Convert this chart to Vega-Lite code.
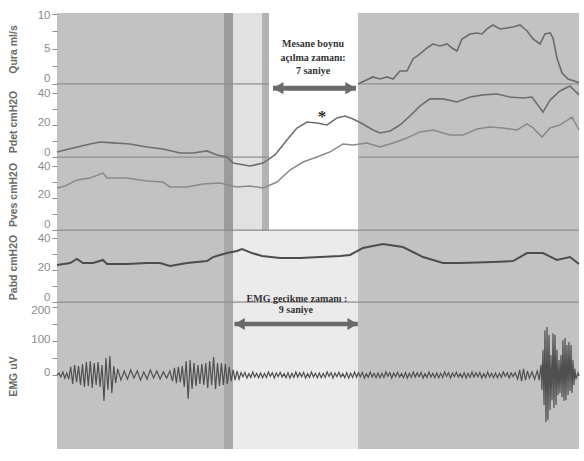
{
  "$schema": "https://vega.github.io/schema/vega-lite/v6.json",
  "padding": {"left": 8, "top": 9, "right": 0, "bottom": 0},
  "spacing": 0,
  "bounds": "flush",
  "background": "#ffffff",
  "config": {
    "view": {"fill": "#c2c2c2", "stroke": null},
    "font": "Liberation Sans",
    "axis": {
      "domain": false, "grid": false, "ticks": true, "tickColor": "#8f8f8f", "tickSize": 5, "tickWidth": 1,
      "labelColor": "#8c8c8c", "labelFont": "Liberation Sans", "labelFontSize": 11.5, "labelPadding": 2, "labelOverlap": false,
      "titleColor": "#6a6a6a", "titleFont": "Liberation Sans", "titleFontSize": 10.5, "titleFontWeight": "bold", "titlePadding": 9,
      "minExtent": 30, "maxExtent": 30
    }
  },
  "datasets": {
    "bands": [
      {"zone": "upper", "kind": "shadow-u", "t0": 12.8, "t1": 13.49},
      {"zone": "upper", "kind": "light-u", "t0": 13.49, "t1": 15.71},
      {"zone": "upper", "kind": "edge-u", "t0": 15.71, "t1": 16.25},
      {"zone": "upper", "kind": "box", "t0": 16.25, "t1": 23.07},
      {"zone": "lower", "kind": "shadow-l", "t0": 12.8, "t1": 13.49},
      {"zone": "lower", "kind": "light-l", "t0": 13.49, "t1": 23.07}
    ],
    "rules": [
      {"panel": "Qura", "t0": 0, "t1": 16.25},
      {"panel": "Qura", "t0": 23.07, "t1": 40},
      {"panel": "Pdet", "t0": 0, "t1": 16.25},
      {"panel": "Pdet", "t0": 23.07, "t1": 40},
      {"panel": "Pves", "t0": 0, "t1": 40},
      {"panel": "Pabd", "t0": 0, "t1": 40}
    ],
    "notes": [
      {"panel": "Qura", "t": 19.62, "v": 5.71, "text": "Mesane boynu"},
      {"panel": "Qura", "t": 19.62, "v": 3.71, "text": "açılma zamanı:"},
      {"panel": "Qura", "t": 19.62, "v": 1.86, "text": "7 saniye"},
      {"panel": "Pdet", "t": 20.31, "v": 27, "text": "*"},
      {"panel": "EMG", "t": 18.39, "v": 223, "text": "EMG gecikme zamanı :"},
      {"panel": "EMG", "t": 18.3, "v": 191, "text": "9 saniye"}
    ],
    "arrows": [
      {"panel": "Pdet", "t0": 16.55, "t1": 22.91, "v": 43},
      {"panel": "EMG", "t0": 13.6, "t1": 23.05, "v": 150}
    ],
    "heads": [
      {"panel": "Pdet", "t": 16.95, "v": 43, "dir": "left"},
      {"panel": "Pdet", "t": 22.5, "v": 43, "dir": "right"},
      {"panel": "EMG", "t": 14.0, "v": 150, "dir": "left"},
      {"panel": "EMG", "t": 22.65, "v": 150, "dir": "right"}
    ],
    "qura": [
      {"t": 23.07, "v": 0}, {"t": 23.22, "v": 0.14}, {"t": 24.21, "v": 1.0}, {"t": 24.75, "v": 0.71}, {"t": 25.29, "v": 1.0},
      {"t": 25.75, "v": 0.71}, {"t": 26.28, "v": 1.86}, {"t": 26.82, "v": 1.86}, {"t": 27.28, "v": 3.57}, {"t": 27.82, "v": 4.29},
      {"t": 28.35, "v": 5.14}, {"t": 28.81, "v": 5.71}, {"t": 29.35, "v": 5.43}, {"t": 29.89, "v": 5.71}, {"t": 30.27, "v": 5.14},
      {"t": 30.65, "v": 4.71}, {"t": 31.03, "v": 6.43}, {"t": 31.65, "v": 7.14}, {"t": 32.18, "v": 7.29}, {"t": 32.57, "v": 7.14},
      {"t": 32.95, "v": 7.86}, {"t": 33.41, "v": 8.43}, {"t": 33.95, "v": 7.86}, {"t": 34.48, "v": 8.0}, {"t": 34.94, "v": 8.14},
      {"t": 35.48, "v": 8.43}, {"t": 36.02, "v": 7.57}, {"t": 36.48, "v": 6.43}, {"t": 37.01, "v": 5.71}, {"t": 37.39, "v": 7.14},
      {"t": 37.78, "v": 7.29}, {"t": 38.01, "v": 6.57}, {"t": 38.31, "v": 3.71}, {"t": 38.7, "v": 1.57}, {"t": 39.16, "v": 0.71},
      {"t": 39.85, "v": 0.29}, {"t": 40, "v": 0.2}
    ],
    "pdet": [
      {"t": 0, "v": 3.1}, {"t": 1.23, "v": 5.6}, {"t": 2.53, "v": 8.1}, {"t": 3.3, "v": 9.4}, {"t": 4.29, "v": 8.8},
      {"t": 5.59, "v": 8.1}, {"t": 6.9, "v": 6.3}, {"t": 8.12, "v": 5.0}, {"t": 9.43, "v": 2.5}, {"t": 10.42, "v": 2.5},
      {"t": 11.49, "v": 3.8}, {"t": 12.26, "v": 1.3}, {"t": 13.03, "v": 0}, {"t": 13.49, "v": -3.8}, {"t": 14.79, "v": -5.6},
      {"t": 15.79, "v": -3.8}, {"t": 16.7, "v": 1.3}, {"t": 17.62, "v": 10.6}, {"t": 18.39, "v": 18.1}, {"t": 19.16, "v": 21.9},
      {"t": 19.92, "v": 21.3}, {"t": 20.69, "v": 20.0}, {"t": 21.46, "v": 24.4}, {"t": 22.07, "v": 25.6}, {"t": 22.68, "v": 23.8},
      {"t": 23.45, "v": 20.6}, {"t": 24.21, "v": 16.9}, {"t": 24.75, "v": 15.0}, {"t": 25.52, "v": 16.3}, {"t": 26.28, "v": 20.0},
      {"t": 27.05, "v": 25.6}, {"t": 27.82, "v": 31.9}, {"t": 28.58, "v": 36.3}, {"t": 29.58, "v": 36.3}, {"t": 30.65, "v": 34.4},
      {"t": 31.65, "v": 37.5}, {"t": 32.64, "v": 38.8}, {"t": 33.72, "v": 39.4}, {"t": 34.71, "v": 37.5}, {"t": 35.71, "v": 36.9},
      {"t": 36.4, "v": 37.5}, {"t": 37.24, "v": 28.1}, {"t": 37.78, "v": 35.6}, {"t": 38.54, "v": 41.3}, {"t": 39.31, "v": 44.4},
      {"t": 40, "v": 38.8}
    ],
    "pves": [
      {"t": 0, "v": 26.3}, {"t": 0.61, "v": 27.5}, {"t": 1.53, "v": 31.3}, {"t": 2.53, "v": 32.5}, {"t": 3.52, "v": 35.6},
      {"t": 3.83, "v": 32.5}, {"t": 5.36, "v": 32.5}, {"t": 6.9, "v": 30.6}, {"t": 8.12, "v": 30.0}, {"t": 8.66, "v": 26.9},
      {"t": 9.96, "v": 26.9}, {"t": 11.19, "v": 28.8}, {"t": 12.49, "v": 29.4}, {"t": 13.79, "v": 26.9}, {"t": 14.79, "v": 27.5},
      {"t": 15.79, "v": 26.3}, {"t": 16.86, "v": 30.0}, {"t": 17.85, "v": 37.5}, {"t": 18.85, "v": 42.5}, {"t": 19.92, "v": 45.6},
      {"t": 20.92, "v": 48.8}, {"t": 21.92, "v": 53.8}, {"t": 22.68, "v": 53.1}, {"t": 23.75, "v": 54.4}, {"t": 24.75, "v": 51.9},
      {"t": 25.75, "v": 54.4}, {"t": 26.82, "v": 57.5}, {"t": 27.82, "v": 61.3}, {"t": 28.81, "v": 62.5}, {"t": 30.11, "v": 59.4},
      {"t": 31.11, "v": 59.4}, {"t": 32.18, "v": 63.1}, {"t": 33.18, "v": 64.4}, {"t": 34.18, "v": 63.8}, {"t": 35.25, "v": 62.5},
      {"t": 36.02, "v": 66.3}, {"t": 36.48, "v": 63.8}, {"t": 37.16, "v": 58.1}, {"t": 37.78, "v": 63.8}, {"t": 38.54, "v": 65.6},
      {"t": 39.46, "v": 70.6}, {"t": 40, "v": 62.5}
    ],
    "pabd": [
      {"t": 0, "v": 23.1}, {"t": 1.0, "v": 24.4}, {"t": 1.53, "v": 26.9}, {"t": 1.99, "v": 24.4}, {"t": 2.76, "v": 24.4},
      {"t": 3.52, "v": 26.3}, {"t": 3.83, "v": 23.8}, {"t": 5.36, "v": 23.8}, {"t": 6.9, "v": 24.4}, {"t": 7.89, "v": 24.4},
      {"t": 8.66, "v": 22.5}, {"t": 9.96, "v": 24.4}, {"t": 11.49, "v": 25.6}, {"t": 11.95, "v": 28.1}, {"t": 13.03, "v": 30.6},
      {"t": 13.79, "v": 31.9}, {"t": 14.18, "v": 33.1}, {"t": 14.94, "v": 30.6}, {"t": 15.71, "v": 28.8}, {"t": 17.09, "v": 27.5},
      {"t": 18.62, "v": 27.5}, {"t": 20.15, "v": 28.1}, {"t": 21.69, "v": 28.8}, {"t": 22.45, "v": 29.4}, {"t": 23.45, "v": 33.8},
      {"t": 24.98, "v": 36.3}, {"t": 26.51, "v": 34.4}, {"t": 28.05, "v": 28.1}, {"t": 29.58, "v": 24.4}, {"t": 30.88, "v": 24.4},
      {"t": 33.41, "v": 25.0}, {"t": 34.94, "v": 25.6}, {"t": 36.02, "v": 30.6}, {"t": 37.24, "v": 30.6}, {"t": 38.31, "v": 26.3},
      {"t": 39.31, "v": 28.1}, {"t": 40, "v": 23.8}
    ],
    "emg": [
      {"t": 0, "v": 0}, {"t": 0.15, "v": 6}, {"t": 0.3, "v": -6}, {"t": 0.45, "v": 9}, {"t": 0.6, "v": -9}, {"t": 0.75, "v": 6},
      {"t": 0.9, "v": -12}, {"t": 1.05, "v": 24}, {"t": 1.2, "v": -26}, {"t": 1.35, "v": 29}, {"t": 1.5, "v": -21}, {"t": 1.65, "v": 26},
      {"t": 1.8, "v": -29}, {"t": 1.95, "v": 32}, {"t": 2.1, "v": -35}, {"t": 2.25, "v": 38}, {"t": 2.4, "v": -32}, {"t": 2.55, "v": 41},
      {"t": 2.7, "v": -38}, {"t": 2.85, "v": 35}, {"t": 3.0, "v": -29}, {"t": 3.15, "v": 38}, {"t": 3.3, "v": -35}, {"t": 3.45, "v": 29},
      {"t": 3.6, "v": -76}, {"t": 3.75, "v": 50}, {"t": 3.9, "v": -44}, {"t": 4.05, "v": 56}, {"t": 4.2, "v": -53}, {"t": 4.35, "v": 26},
      {"t": 4.5, "v": -24}, {"t": 4.65, "v": 18}, {"t": 4.9, "v": -15}, {"t": 5.15, "v": 12}, {"t": 5.4, "v": -12}, {"t": 5.65, "v": 15},
      {"t": 5.9, "v": -9}, {"t": 6.15, "v": 12}, {"t": 6.4, "v": -15}, {"t": 6.65, "v": 9}, {"t": 6.9, "v": -12}, {"t": 7.15, "v": 15},
      {"t": 7.4, "v": -9}, {"t": 7.65, "v": 12}, {"t": 7.9, "v": -12}, {"t": 8.15, "v": 9}, {"t": 8.4, "v": -9}, {"t": 8.65, "v": 12},
      {"t": 8.85, "v": -18}, {"t": 9.0, "v": 21}, {"t": 9.15, "v": -24}, {"t": 9.3, "v": 24}, {"t": 9.45, "v": -21}, {"t": 9.6, "v": 26},
      {"t": 9.75, "v": -35}, {"t": 9.9, "v": 41}, {"t": 10.05, "v": -70}, {"t": 10.2, "v": 44}, {"t": 10.35, "v": -41}, {"t": 10.5, "v": 35},
      {"t": 10.65, "v": -32}, {"t": 10.8, "v": 29}, {"t": 10.95, "v": -26}, {"t": 11.1, "v": 32}, {"t": 11.25, "v": -29}, {"t": 11.4, "v": 35},
      {"t": 11.55, "v": -38}, {"t": 11.7, "v": 41}, {"t": 11.85, "v": -30}, {"t": 12.0, "v": 53}, {"t": 12.15, "v": -41}, {"t": 12.3, "v": 35},
      {"t": 12.45, "v": -32}, {"t": 12.6, "v": 35}, {"t": 12.75, "v": -29}, {"t": 12.9, "v": 32}, {"t": 13.05, "v": -26}, {"t": 13.2, "v": 24},
      {"t": 13.35, "v": -18}, {"t": 13.5, "v": 15}, {"t": 13.65, "v": -15}, {"t": 13.8, "v": 12}, {"t": 13.95, "v": -12},
      {"t": 14.1, "v": 7}, {"t": 14.25, "v": -5}, {"t": 14.4, "v": 8}, {"t": 14.55, "v": -9}, {"t": 14.7, "v": 4}, {"t": 14.85, "v": -7}, {"t": 15.0, "v": 9}, {"t": 15.15, "v": -6}, {"t": 15.3, "v": 5}, {"t": 15.45, "v": -8},
      {"t": 15.6, "v": 6}, {"t": 15.75, "v": -8}, {"t": 15.9, "v": 5}, {"t": 16.05, "v": -7}, {"t": 16.2, "v": 9}, {"t": 16.35, "v": -4}, {"t": 16.5, "v": 7}, {"t": 16.65, "v": -9}, {"t": 16.8, "v": 6}, {"t": 16.95, "v": -5},
      {"t": 17.1, "v": 8}, {"t": 17.25, "v": -6}, {"t": 17.4, "v": 4}, {"t": 17.55, "v": -8}, {"t": 17.7, "v": 7}, {"t": 17.85, "v": -9}, {"t": 18.0, "v": 5}, {"t": 18.15, "v": -7}, {"t": 18.3, "v": 9}, {"t": 18.45, "v": -6},
      {"t": 18.6, "v": 7}, {"t": 18.75, "v": -5}, {"t": 18.9, "v": 8}, {"t": 19.05, "v": -9}, {"t": 19.2, "v": 4}, {"t": 19.35, "v": -7}, {"t": 19.5, "v": 9}, {"t": 19.65, "v": -6}, {"t": 19.8, "v": 5}, {"t": 19.95, "v": -8},
      {"t": 20.1, "v": 6}, {"t": 20.25, "v": -8}, {"t": 20.4, "v": 5}, {"t": 20.55, "v": -7}, {"t": 20.7, "v": 9}, {"t": 20.85, "v": -4}, {"t": 21.0, "v": 7}, {"t": 21.15, "v": -9}, {"t": 21.3, "v": 6}, {"t": 21.45, "v": -5},
      {"t": 21.6, "v": 8}, {"t": 21.75, "v": -6}, {"t": 21.9, "v": 4}, {"t": 22.05, "v": -8}, {"t": 22.2, "v": 7}, {"t": 22.35, "v": -9}, {"t": 22.5, "v": 5}, {"t": 22.65, "v": -7}, {"t": 22.8, "v": 9}, {"t": 22.95, "v": -6},
      {"t": 23.1, "v": 7}, {"t": 23.25, "v": -5}, {"t": 23.4, "v": 8}, {"t": 23.55, "v": -9}, {"t": 23.7, "v": 4}, {"t": 23.85, "v": -7}, {"t": 24.0, "v": 9}, {"t": 24.15, "v": -6}, {"t": 24.3, "v": 5}, {"t": 24.45, "v": -8},
      {"t": 24.6, "v": 6}, {"t": 24.75, "v": -8}, {"t": 24.9, "v": 5}, {"t": 25.05, "v": -7}, {"t": 25.2, "v": 9}, {"t": 25.35, "v": -4}, {"t": 25.5, "v": 7}, {"t": 25.65, "v": -9}, {"t": 25.8, "v": 6}, {"t": 25.95, "v": -5},
      {"t": 26.1, "v": 8}, {"t": 26.25, "v": -6}, {"t": 26.4, "v": 4}, {"t": 26.55, "v": -8}, {"t": 26.7, "v": 7}, {"t": 26.85, "v": -9}, {"t": 27.0, "v": 5}, {"t": 27.15, "v": -7}, {"t": 27.3, "v": 9}, {"t": 27.45, "v": -6},
      {"t": 27.6, "v": 7}, {"t": 27.75, "v": -5}, {"t": 27.9, "v": 8}, {"t": 28.05, "v": -9}, {"t": 28.2, "v": 4}, {"t": 28.35, "v": -7}, {"t": 28.5, "v": 9}, {"t": 28.65, "v": -6}, {"t": 28.8, "v": 5}, {"t": 28.95, "v": -8},
      {"t": 29.1, "v": 6}, {"t": 29.25, "v": -8}, {"t": 29.4, "v": 5}, {"t": 29.55, "v": -7}, {"t": 29.7, "v": 9}, {"t": 29.85, "v": -4}, {"t": 30.0, "v": 7}, {"t": 30.15, "v": -9}, {"t": 30.3, "v": 6}, {"t": 30.45, "v": -5},
      {"t": 30.6, "v": 8}, {"t": 30.75, "v": -6}, {"t": 30.9, "v": 4}, {"t": 31.05, "v": -8}, {"t": 31.2, "v": 7}, {"t": 31.35, "v": -9}, {"t": 31.5, "v": 5}, {"t": 31.65, "v": -7}, {"t": 31.8, "v": 9}, {"t": 31.95, "v": -6},
      {"t": 32.1, "v": 7}, {"t": 32.25, "v": -5}, {"t": 32.4, "v": 8}, {"t": 32.55, "v": -9}, {"t": 32.7, "v": 4}, {"t": 32.85, "v": -7}, {"t": 33.0, "v": 9}, {"t": 33.15, "v": -6}, {"t": 33.3, "v": 5}, {"t": 33.45, "v": -8},
      {"t": 33.6, "v": 6}, {"t": 33.75, "v": -8}, {"t": 33.9, "v": 5}, {"t": 34.05, "v": -7}, {"t": 34.2, "v": 9}, {"t": 34.35, "v": -4}, {"t": 34.5, "v": 7}, {"t": 34.65, "v": -9}, {"t": 34.8, "v": 6}, {"t": 34.95, "v": -5},
      {"t": 35.1, "v": 7},
      {"t": 35.3, "v": -12}, {"t": 35.45, "v": 15}, {"t": 35.6, "v": -18}, {"t": 35.75, "v": 18}, {"t": 35.9, "v": -15}, {"t": 36.05, "v": 12},
      {"t": 36.2, "v": -9}, {"t": 36.4, "v": 9}, {"t": 36.6, "v": -12}, {"t": 36.8, "v": 12}, {"t": 36.95, "v": -15},
      {"t": 37.09, "v": 30}, {"t": 37.16, "v": -44}, {"t": 37.24, "v": 74}, {"t": 37.32, "v": -88}, {"t": 37.39, "v": 132}, {"t": 37.47, "v": -138},
      {"t": 37.55, "v": 141}, {"t": 37.62, "v": -132}, {"t": 37.7, "v": 118}, {"t": 37.78, "v": -103}, {"t": 37.85, "v": 59}, {"t": 37.93, "v": -74},
      {"t": 38.01, "v": 123}, {"t": 38.08, "v": -97}, {"t": 38.16, "v": 118}, {"t": 38.24, "v": -88}, {"t": 38.31, "v": 74}, {"t": 38.39, "v": -59},
      {"t": 38.47, "v": 44}, {"t": 38.54, "v": -53}, {"t": 38.62, "v": 59}, {"t": 38.7, "v": -65}, {"t": 38.77, "v": 103}, {"t": 38.85, "v": -76},
      {"t": 38.93, "v": 109}, {"t": 39.0, "v": -74}, {"t": 39.08, "v": 88}, {"t": 39.16, "v": -59}, {"t": 39.23, "v": 97}, {"t": 39.31, "v": -47},
      {"t": 39.39, "v": 88}, {"t": 39.46, "v": -53}, {"t": 39.54, "v": 44}, {"t": 39.62, "v": -29}, {"t": 39.69, "v": 18}, {"t": 39.77, "v": -12},
      {"t": 39.92, "v": 6}, {"t": 40, "v": -3}
    ]
  },
  "vconcat": [
    {
      "width": 522, "height": 72,
      "resolve": {"scale": {"y": "independent"}},
      "layer": [
        {
          "data": {"name": "bands"}, "transform": [{"filter": "datum.zone == 'upper'"}],
          "mark": {"type": "rect"},
          "encoding": {
            "x": {"field": "t0", "type": "quantitative", "scale": {"domain": [0, 40], "nice": false, "zero": false}, "axis": null},
            "x2": {"field": "t1"},
            "color": {"field": "kind", "type": "nominal", "legend": null,
              "scale": {"domain": ["shadow-u", "light-u", "edge-u", "box", "shadow-l", "light-l"], "range": ["#9b9b9b", "#e1e1e1", "#b3b3b3", "#ffffff", "#a9a9a9", "#ebebeb"]}}
          }
        },
        {
          "data": {"name": "rules"}, "transform": [{"filter": "datum.panel == 'Qura'"}],
          "mark": {"type": "rule", "color": "#8e8e8e", "strokeWidth": 1.3},
          "encoding": {
            "x": {"field": "t0", "type": "quantitative", "scale": {"domain": [0, 40], "nice": false, "zero": false}, "axis": null},
            "x2": {"field": "t1"},
            "y": {"datum": 0, "type": "quantitative", "scale": {"domain": [-0.15, 10.14], "nice": false, "zero": false}, "axis": null}
          }
        },
        {
          "data": {"name": "qura"},
          "mark": {"type": "line", "color": "#6b6b6b", "strokeWidth": 1.6},
          "encoding": {
            "x": {"field": "t", "type": "quantitative", "scale": {"domain": [0, 40], "nice": false, "zero": false}, "axis": null},
            "y": {"field": "v", "type": "quantitative", "scale": {"domain": [-0.15, 10.14], "nice": false, "zero": false},
              "axis": {"title": "Qura ml/s", "values": [0, 2.5, 5, 7.5, 10], "labelExpr": "datum.value % 5 == 0 ? datum.label : ''",
                "labelOffset": {"condition": [{"test": "datum.value == 0", "value": -5}, {"test": "datum.value == 10", "value": 2}], "value": 0}}}
          }
        },
        {
          "data": {"name": "notes"}, "transform": [{"filter": "datum.panel == 'Qura'"}],
          "mark": {"type": "text", "font": "Liberation Serif", "fontWeight": "bold", "fontSize": 10, "color": "#333333", "baseline": "middle", "align": "center"},
          "encoding": {
            "x": {"field": "t", "type": "quantitative", "scale": {"domain": [0, 40], "nice": false, "zero": false}, "axis": null},
            "y": {"field": "v", "type": "quantitative", "scale": {"domain": [-0.15, 10.14], "nice": false, "zero": false}, "axis": null},
            "text": {"field": "text"}
          }
        }
      ]
    },
    {
      "width": 522, "height": 73,
      "resolve": {"scale": {"y": "independent"}},
      "layer": [
        {
          "data": {"name": "bands"}, "transform": [{"filter": "datum.zone == 'upper'"}],
          "mark": {"type": "rect"},
          "encoding": {
            "x": {"field": "t0", "type": "quantitative", "scale": {"domain": [0, 40], "nice": false, "zero": false}, "axis": null},
            "x2": {"field": "t1"},
            "color": {"field": "kind", "type": "nominal", "legend": null,
              "scale": {"domain": ["shadow-u", "light-u", "edge-u", "box", "shadow-l", "light-l"], "range": ["#9b9b9b", "#e1e1e1", "#b3b3b3", "#ffffff", "#a9a9a9", "#ebebeb"]}}
          }
        },
        {
          "data": {"name": "rules"}, "transform": [{"filter": "datum.panel == 'Pdet'"}],
          "mark": {"type": "rule", "color": "#8e8e8e", "strokeWidth": 1.3},
          "encoding": {
            "x": {"field": "t0", "type": "quantitative", "scale": {"domain": [0, 40], "nice": false, "zero": false}, "axis": null},
            "x2": {"field": "t1"},
            "y": {"datum": 0, "type": "quantitative", "scale": {"domain": [-0.6, 45], "nice": false, "zero": false},
              "axis": {"title": "Pdet cmH2O", "values": [0, 10, 20, 30, 40], "labelExpr": "datum.value % 20 == 0 ? datum.label : ''",
                "labelOffset": {"condition": [{"test": "datum.value == 0", "value": -5}, {"test": "datum.value == 20", "value": -3}], "value": 0}}}
          }
        },
        {
          "data": {"name": "arrows"}, "transform": [{"filter": "datum.panel == 'Pdet'"}],
          "mark": {"type": "rule", "color": "#6a6a6a", "strokeWidth": 5},
          "encoding": {
            "x": {"field": "t0", "type": "quantitative", "scale": {"domain": [0, 40], "nice": false, "zero": false}, "axis": null},
            "x2": {"field": "t1"},
            "y": {"field": "v", "type": "quantitative", "scale": {"domain": [-0.6, 45], "nice": false, "zero": false}, "axis": null}
          }
        },
        {
          "data": {"name": "heads"}, "transform": [{"filter": "datum.panel == 'Pdet'"}],
          "mark": {"type": "point", "filled": true, "color": "#6a6a6a", "opacity": 1, "size": 150},
          "encoding": {
            "x": {"field": "t", "type": "quantitative", "scale": {"domain": [0, 40], "nice": false, "zero": false}, "axis": null},
            "y": {"field": "v", "type": "quantitative", "scale": {"domain": [-0.6, 45], "nice": false, "zero": false}, "axis": null},
            "shape": {"field": "dir", "type": "nominal", "legend": null, "scale": {"domain": ["left", "right"], "range": ["triangle-left", "triangle-right"]}}
          }
        },
        {
          "data": {"name": "notes"}, "transform": [{"filter": "datum.panel == 'Pdet'"}],
          "mark": {"type": "text", "font": "Liberation Serif", "fontWeight": "bold", "fontSize": 17, "color": "#333333", "baseline": "middle", "align": "center", "dy": 3},
          "encoding": {
            "x": {"field": "t", "type": "quantitative", "scale": {"domain": [0, 40], "nice": false, "zero": false}, "axis": null},
            "y": {"field": "v", "type": "quantitative", "scale": {"domain": [-0.6, 45], "nice": false, "zero": false}, "axis": null},
            "text": {"field": "text"}
          }
        }
      ]
    },
    {
      "width": 522, "height": 73,
      "resolve": {"scale": {"y": "independent"}},
      "layer": [
        {
          "data": {"name": "bands"}, "transform": [{"filter": "datum.zone == 'upper'"}],
          "mark": {"type": "rect"},
          "encoding": {
            "x": {"field": "t0", "type": "quantitative", "scale": {"domain": [0, 40], "nice": false, "zero": false}, "axis": null},
            "x2": {"field": "t1"},
            "color": {"field": "kind", "type": "nominal", "legend": null,
              "scale": {"domain": ["shadow-u", "light-u", "edge-u", "box", "shadow-l", "light-l"], "range": ["#9b9b9b", "#e1e1e1", "#b3b3b3", "#ffffff", "#a9a9a9", "#ebebeb"]}}
          }
        },
        {
          "data": {"name": "rules"}, "transform": [{"filter": "datum.panel == 'Pves'"}],
          "mark": {"type": "rule", "color": "#8e8e8e", "strokeWidth": 1.3},
          "encoding": {
            "x": {"field": "t0", "type": "quantitative", "scale": {"domain": [0, 40], "nice": false, "zero": false}, "axis": null},
            "x2": {"field": "t1"},
            "y": {"datum": 0, "type": "quantitative", "scale": {"domain": [-0.6, 45], "nice": false, "zero": false}, "axis": null}
          }
        },
        {
          "data": {"name": "pves"},
          "mark": {"type": "line", "color": "#8a8a8a", "strokeWidth": 1.5},
          "encoding": {
            "x": {"field": "t", "type": "quantitative", "scale": {"domain": [0, 40], "nice": false, "zero": false}, "axis": null},
            "y": {"field": "v", "type": "quantitative", "scale": {"domain": [-0.6, 45], "nice": false, "zero": false},
              "axis": {"title": "Pves cmH2O", "values": [0, 10, 20, 30, 40], "labelExpr": "datum.value % 20 == 0 ? datum.label : ''",
                "labelOffset": {"condition": [{"test": "datum.value == 0", "value": -6}, {"test": "datum.value == 20", "value": -4}], "value": 0}}}
          }
        },
        {
          "data": {"name": "pdet"},
          "mark": {"type": "line", "color": "#6e6e6e", "strokeWidth": 1.6},
          "encoding": {
            "x": {"field": "t", "type": "quantitative", "scale": {"domain": [0, 40], "nice": false, "zero": false}, "axis": null},
            "y": {"field": "v", "type": "quantitative", "scale": {"domain": [-46.25, -0.625], "nice": false, "zero": false}, "axis": null}
          }
        }
      ]
    },
    {
      "width": 522, "height": 72,
      "resolve": {"scale": {"y": "independent"}},
      "layer": [
        {
          "data": {"name": "bands"}, "transform": [{"filter": "datum.zone == 'lower'"}],
          "mark": {"type": "rect"},
          "encoding": {
            "x": {"field": "t0", "type": "quantitative", "scale": {"domain": [0, 40], "nice": false, "zero": false}, "axis": null},
            "x2": {"field": "t1"},
            "color": {"field": "kind", "type": "nominal", "legend": null,
              "scale": {"domain": ["shadow-u", "light-u", "edge-u", "box", "shadow-l", "light-l"], "range": ["#9b9b9b", "#e1e1e1", "#b3b3b3", "#ffffff", "#a9a9a9", "#ebebeb"]}}
          }
        },
        {
          "data": {"name": "rules"}, "transform": [{"filter": "datum.panel == 'Pabd'"}],
          "mark": {"type": "rule", "color": "#8e8e8e", "strokeWidth": 1.3},
          "encoding": {
            "x": {"field": "t0", "type": "quantitative", "scale": {"domain": [0, 40], "nice": false, "zero": false}, "axis": null},
            "x2": {"field": "t1"},
            "y": {"datum": 0, "type": "quantitative", "scale": {"domain": [-0.6, 44.4], "nice": false, "zero": false}, "axis": null}
          }
        },
        {
          "data": {"name": "pabd"},
          "mark": {"type": "line", "color": "#4d4d4d", "strokeWidth": 2},
          "encoding": {
            "x": {"field": "t", "type": "quantitative", "scale": {"domain": [0, 40], "nice": false, "zero": false}, "axis": null},
            "y": {"field": "v", "type": "quantitative", "scale": {"domain": [-0.6, 44.4], "nice": false, "zero": false},
              "axis": {"title": "Pabd cmH2O", "values": [0, 10, 20, 30, 40], "labelExpr": "datum.value % 20 == 0 ? datum.label : ''",
                "labelOffset": {"condition": [{"test": "datum.value == 0", "value": -5}, {"test": "datum.value == 20", "value": -3}], "value": 0}}}
          }
        }
      ]
    },
    {
      "width": 522, "height": 146,
      "resolve": {"scale": {"y": "independent"}},
      "layer": [
        {
          "data": {"name": "bands"}, "transform": [{"filter": "datum.zone == 'lower'"}],
          "mark": {"type": "rect"},
          "encoding": {
            "x": {"field": "t0", "type": "quantitative", "scale": {"domain": [0, 40], "nice": false, "zero": false}, "axis": null},
            "x2": {"field": "t1"},
            "color": {"field": "kind", "type": "nominal", "legend": null,
              "scale": {"domain": ["shadow-u", "light-u", "edge-u", "box", "shadow-l", "light-l"], "range": ["#9b9b9b", "#e1e1e1", "#b3b3b3", "#ffffff", "#a9a9a9", "#ebebeb"]}}
          }
        },
        {
          "data": {"name": "emg"},
          "mark": {"type": "line", "color": "#505050", "strokeWidth": 1.2},
          "encoding": {
            "x": {"field": "t", "type": "quantitative", "scale": {"domain": [0, 40], "nice": false, "zero": false}, "axis": null},
            "y": {"field": "v", "type": "quantitative", "scale": {"domain": [-217.6, 211.8], "nice": false, "zero": false},
              "axis": {"title": "EMG uV", "values": [0, 50, 100, 150, 200], "labelExpr": "datum.value % 100 == 0 ? datum.label : ''",
                "labelOffset": {"condition": [{"test": "datum.value == 200", "value": 3}, {"test": "datum.value == 0", "value": -3}], "value": -2}}}
          }
        },
        {
          "data": {"name": "arrows"}, "transform": [{"filter": "datum.panel == 'EMG'"}],
          "mark": {"type": "rule", "color": "#6a6a6a", "strokeWidth": 4.5},
          "encoding": {
            "x": {"field": "t0", "type": "quantitative", "scale": {"domain": [0, 40], "nice": false, "zero": false}, "axis": null},
            "x2": {"field": "t1"},
            "y": {"field": "v", "type": "quantitative", "scale": {"domain": [-217.6, 211.8], "nice": false, "zero": false}, "axis": null}
          }
        },
        {
          "data": {"name": "heads"}, "transform": [{"filter": "datum.panel == 'EMG'"}],
          "mark": {"type": "point", "filled": true, "color": "#6a6a6a", "opacity": 1, "size": 140},
          "encoding": {
            "x": {"field": "t", "type": "quantitative", "scale": {"domain": [0, 40], "nice": false, "zero": false}, "axis": null},
            "y": {"field": "v", "type": "quantitative", "scale": {"domain": [-217.6, 211.8], "nice": false, "zero": false}, "axis": null},
            "shape": {"field": "dir", "type": "nominal", "legend": null, "scale": {"domain": ["left", "right"], "range": ["triangle-left", "triangle-right"]}}
          }
        },
        {
          "data": {"name": "notes"}, "transform": [{"filter": "datum.panel == 'EMG'"}],
          "mark": {"type": "text", "font": "Liberation Serif", "fontWeight": "bold", "fontSize": 10, "color": "#333333", "baseline": "middle", "align": "center"},
          "encoding": {
            "x": {"field": "t", "type": "quantitative", "scale": {"domain": [0, 40], "nice": false, "zero": false}, "axis": null},
            "y": {"field": "v", "type": "quantitative", "scale": {"domain": [-217.6, 211.8], "nice": false, "zero": false}, "axis": null},
            "text": {"field": "text"}
          }
        }
      ]
    }
  ]
}
